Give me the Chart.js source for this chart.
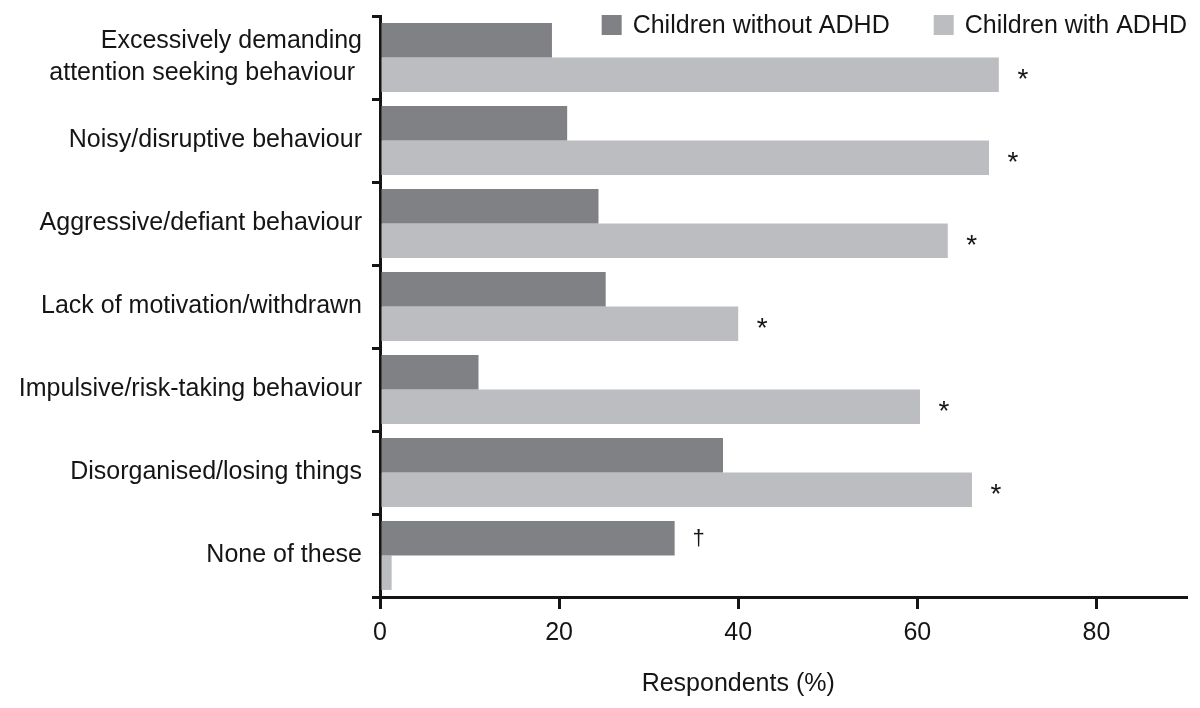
<!DOCTYPE html>
<html>
<head>
<meta charset="utf-8">
<script src="https://cdn.jsdelivr.net/npm/chart.js@4.4.1/dist/chart.umd.min.js"></script>
<style>
    html, body { margin: 0; padding: 0; background: #fff; }
</style>
</head>
<body>
<canvas id="chart" width="1200" height="708"></canvas>
<script>
const categories = [
    ['Excessively demanding', 'attention seeking behaviour '],
    'Noisy/disruptive behaviour',
    'Aggressive/defiant behaviour',
    'Lack of motivation/withdrawn',
    'Impulsive/risk-taking behaviour',
    'Disorganised/losing things',
    'None of these',
];
const withoutAdhd = [19.2, 20.9, 24.4, 25.2, 11.0, 38.3, 32.9];
const withAdhd = [69.1, 68.0, 63.4, 40.0, 60.3, 66.1, 1.3];
const withoutMarks = ['', '', '', '', '', '', '†'];
const withMarks = ['*', '*', '*', '*', '*', '*', ''];
const xTicks = [0, 20, 40, 60, 80];
const xMax = 90;
const xTitle = 'Respondents (%)';

const FONT_FAMILY = '"Liberation Sans", Arial, Helvetica, sans-serif';
const INK = '#151515';

// asterisks / daggers to the right of the bars
const marksPlugin = {
    id: 'marks',
    afterDatasetsDraw(chart) {
        const { ctx } = chart;
        ctx.save();
        ctx.fillStyle = INK;
        ctx.textAlign = 'center';
        ctx.textBaseline = 'middle';
        [withoutMarks, withMarks].forEach((marks, di) => {
            chart.getDatasetMeta(di).data.forEach((bar, i) => {
                const m = marks[i];
                if (!m) {
                    return;
                }
                if (m === '*') {
                    ctx.font = '28px ' + FONT_FAMILY;
                    ctx.fillText(m, bar.x + 24, bar.y + 6);
                } else {
                    ctx.font = '22px ' + FONT_FAMILY;
                    ctx.fillText(m, bar.x + 24, bar.y + 1);
                }
            });
        });
        ctx.restore();
    },
};

// legend inside the plot, top right
const legendPlugin = {
    id: 'topLegend',
    afterDraw(chart) {
        const { ctx, chartArea } = chart;
        ctx.save();
        ctx.font = '25px ' + FONT_FAMILY;
        ctx.textAlign = 'left';
        ctx.textBaseline = 'alphabetic';
        let x = chartArea.right + 1;
        chart.data.datasets.slice().reverse().forEach((ds) => {
            const w = ctx.measureText(ds.label).width;
            x -= w;
            ctx.fillStyle = INK;
            ctx.fillText(ds.label, x, 33);
            x -= 31;
            ctx.fillStyle = ds.backgroundColor;
            ctx.fillRect(x, 15, 20, 20);
            x -= 44;
        });
        ctx.restore();
    },
};

// axis title centred under the labelled ticks
const xTitlePlugin = {
    id: 'xTitle',
    afterDraw(chart) {
        const { ctx } = chart;
        const sx = chart.scales.x;
        const cx = (sx.getPixelForValue(xTicks[0]) + sx.getPixelForValue(xTicks[xTicks.length - 1])) / 2;
        ctx.save();
        ctx.font = '25px ' + FONT_FAMILY;
        ctx.fillStyle = INK;
        ctx.textAlign = 'center';
        ctx.textBaseline = 'middle';
        ctx.fillText(xTitle, cx, sx.bottom - 24);
        ctx.restore();
    },
};

new Chart(document.getElementById('chart'), {
    type: 'bar',
    data: {
        labels: categories,
        datasets: [
            {
                label: 'Children without ADHD',
                data: withoutAdhd,
                backgroundColor: '#808185',
                borderWidth: 0,
                categoryPercentage: 0.83,
                barPercentage: 1,
            },
            {
                label: 'Children with ADHD',
                data: withAdhd,
                backgroundColor: '#bcbdc0',
                borderWidth: 0,
                categoryPercentage: 0.83,
                barPercentage: 1,
            },
        ],
    },
    options: {
        indexAxis: 'y',
        responsive: false,
        animation: false,
        layout: { padding: { top: 16, right: 14, left: 0, bottom: 0 } },
        plugins: {
            legend: { display: false },
            tooltip: { enabled: false },
        },
        scales: {
            x: {
                min: 0,
                max: xMax,
                afterBuildTicks(scale) {
                    scale.ticks = xTicks.map((v) => ({ value: v }));
                },
                afterFit(scale) {
                    scale.height = 111;
                    scale.paddingLeft = 0;
                    scale.paddingRight = 0;
                },
                grid: {
                    drawOnChartArea: false,
                    tickLength: 12,
                    lineWidth: 3,
                    color: INK,
                },
                border: { display: true, width: 3, color: INK },
                ticks: {
                    color: INK,
                    padding: 9,
                    font: { family: FONT_FAMILY, size: 25 },
                    maxRotation: 0,
                },
            },
            y: {
                afterFit(scale) {
                    scale.width = 380;
                    scale.paddingTop = 0;
                    scale.paddingBottom = 0;
                },
                grid: {
                    offset: true,
                    drawOnChartArea: false,
                    tickLength: 8,
                    lineWidth: 3,
                    color: INK,
                },
                border: { display: true, width: 3, color: INK },
                ticks: {
                    color: INK,
                    padding: 10,
                    font: { family: FONT_FAMILY, size: 25, lineHeight: 1.28 },
                },
            },
        },
    },
    plugins: [marksPlugin, legendPlugin, xTitlePlugin],
});
</script>
</body>
</html>
